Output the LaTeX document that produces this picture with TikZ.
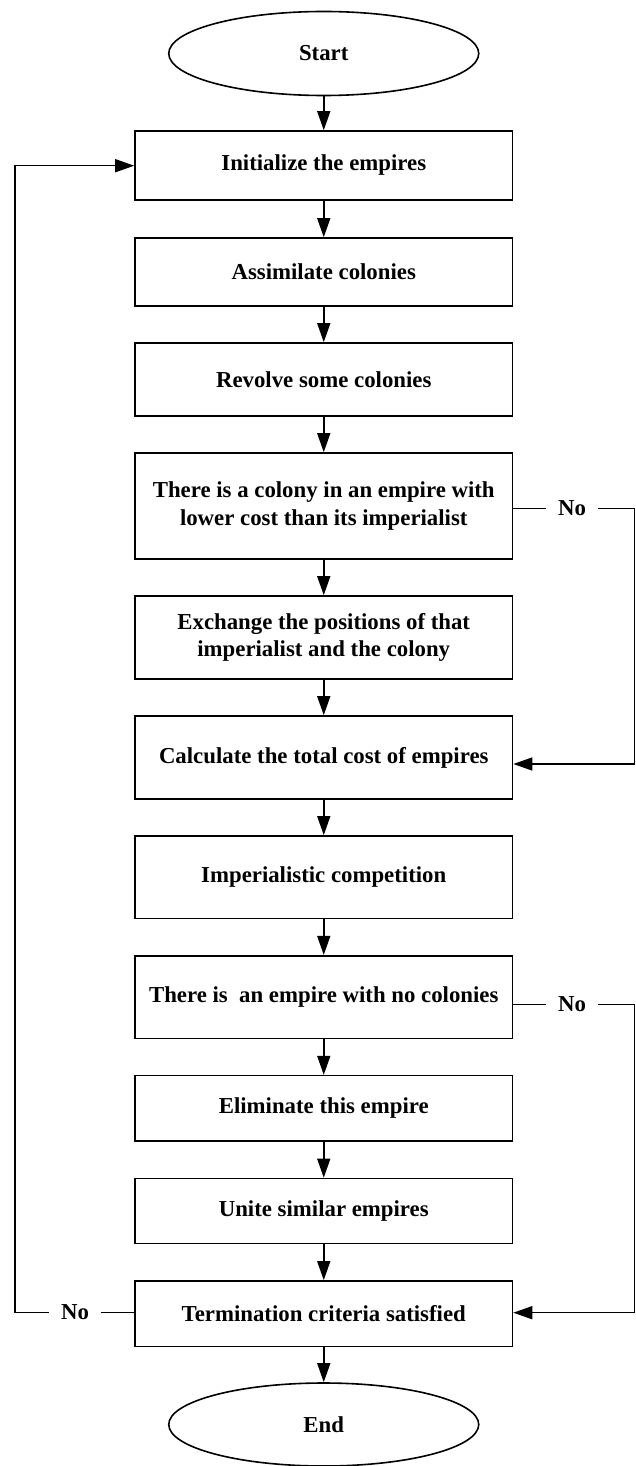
\documentclass[tikz,border=0pt]{standalone}
\usepackage{fontspec}
\setmainfont{Liberation Serif}
\usetikzlibrary{arrows.meta,shapes.geometric}
\newcommand{\flowfont}{\bfseries\fontsize{22.8}{27.4}\selectfont}
\tikzset{
  box/.style={draw, line width=1.6pt, minimum width=377.5pt, inner sep=0pt, align=center, font=\flowfont},
  term/.style={draw, ellipse, line width=1.6pt, minimum width=310pt, minimum height=84pt, inner sep=0pt, font=\flowfont},
  conn/.style={line width=1.5pt, -{Triangle[length=19pt,width=13pt]}},
  plain/.style={line width=1.5pt},
  lbl/.style={font=\flowfont, inner xsep=12pt, inner ysep=0pt}
}
\begin{document}
\begin{tikzpicture}[x=1pt,y=-1pt]
\useasboundingbox (0,0) rectangle (636,1466);
\node[term] (start) at (323.75,53.5) {Start};
\node[box, minimum height=69pt] (b1) at (323.75,165.5) {Initialize the empires};
\node[box, minimum height=68pt] (b2) at (323.75,272) {Assimilate colonies};
\node[box, minimum height=73pt] (b3) at (323.75,379.5) {Revolve some colonies};
\node[box, minimum height=106pt] (b4) at (323.75,506) {There is a colony in an empire with\\lower cost than its imperialist};
\node[box, minimum height=83pt] (b5) at (323.75,637.5) {Exchange the positions of that\\imperialist and the colony};
\node[box, minimum height=83pt] (b6) at (323.75,757.5) {Calculate the total cost of empires};
\node[box, minimum height=82.7pt] (b7) at (323.75,877.3) {Imperialistic competition};
\node[box, minimum height=82.6pt] (b8) at (323.75,997) {There is~ an empire with no colonies};
\node[box, minimum height=65.3pt] (b9) at (323.75,1108.3) {Eliminate this empire};
\node[box, minimum height=65pt] (b10) at (323.75,1211) {Unite similar empires};
\node[box, minimum height=65.5pt] (b11) at (323.75,1313.7) {Termination criteria satisfied};
\node[term, minimum height=83pt] (end) at (323.75,1424.5) {End};

\node[lbl] (no1) at (572,508.3) {No};
\node[lbl] (no2) at (572,1004.3) {No};
\node[lbl] (no3) at (75,1312.5) {No};

\coordinate (r1) at (634.5,508.3);
\coordinate (r1b) at (634.5,764);
\coordinate (r2) at (634.5,1004.3);
\coordinate (r2b) at (634.5,1312.7);
\coordinate (l1) at (15,1312.5);
\coordinate (l1b) at (15,165.7);

\draw[conn] (start) -- (b1);
\draw[conn] (b1) -- (b2);
\draw[conn] (b2) -- (b3);
\draw[conn] (b3) -- (b4);
\draw[conn] (b4) -- (b5);
\draw[conn] (b5) -- (b6);
\draw[conn] (b6) -- (b7);
\draw[conn] (b7) -- (b8);
\draw[conn] (b8) -- (b9);
\draw[conn] (b9) -- (b10);
\draw[conn] (b10) -- (b11);
\draw[conn] (b11) -- (end);

\draw[plain] (b4.east |- no1) -- (no1);
\draw[conn] (no1) -- (r1) -- (r1b) -- (b6.east |- r1b);
\draw[plain] (b8.east |- no2) -- (no2);
\draw[conn] (no2) -- (r2) -- (r2b) -- (b11.east |- r2b);
\draw[plain] (b11.west |- no3) -- (no3);
\draw[conn] (no3) -- (l1) -- (l1b) -- (b1.west |- l1b);
\end{tikzpicture}
\end{document}
